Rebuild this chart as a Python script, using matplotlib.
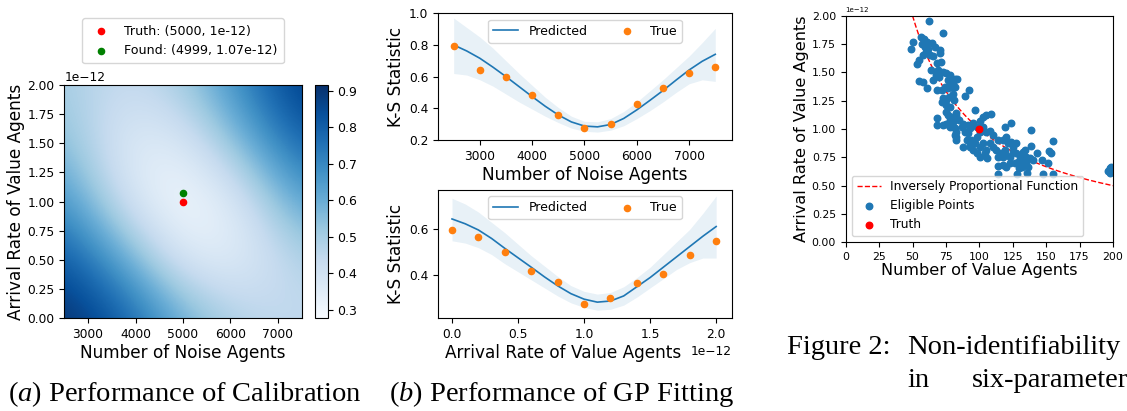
import numpy as np
import matplotlib
matplotlib.use('Agg')
import matplotlib.pyplot as plt

plt.rcParams['font.family'] = ['DejaVu Sans']
plt.rcParams['mathtext.fontset'] = 'custom'
plt.rcParams['mathtext.rm'] = 'Liberation Serif'
plt.rcParams['mathtext.it'] = 'Liberation Serif:italic'

# ---------------- Panel (a): calibration heatmap ----------------
heat_x = [2500, 3750, 5000, 6250, 7500]
heat_y = [0.0, 0.5e-12, 1.0e-12, 1.5e-12, 2.0e-12]
heat_ks = [
    [0.92, 0.82, 0.60, 0.47, 0.44],   # y = 0.0
    [0.83, 0.62, 0.36, 0.34, 0.48],   # y = 0.5e-12
    [0.68, 0.40, 0.27, 0.38, 0.64],   # y = 1.0e-12
    [0.56, 0.35, 0.36, 0.57, 0.80],   # y = 1.5e-12
    [0.50, 0.43, 0.50, 0.71, 0.90],   # y = 2.0e-12
]
truth_a = (5000, 1e-12)
found_a = (4999, 1.07e-12)
heat_xticks = [3000, 4000, 5000, 6000, 7000]
cbar_ticks = [0.3, 0.4, 0.5, 0.6, 0.7, 0.8, 0.9]

# ---------------- Panel (b) top: K-S vs number of noise agents ----------------
noise_grid = [2500, 2750, 3000, 3250, 3500, 3750, 4000, 4250, 4500, 4750, 5000,
              5250, 5500, 5750, 6000, 6250, 6500, 6750, 7000, 7250, 7500]
noise_pred = [0.800, 0.762, 0.716, 0.660, 0.600, 0.537, 0.474, 0.413, 0.358, 0.314, 0.288,
              0.283, 0.298, 0.336, 0.390, 0.450, 0.512, 0.578, 0.642, 0.697, 0.741]
noise_upper = [0.97, 0.91, 0.85, 0.78, 0.70, 0.62, 0.545, 0.47, 0.405, 0.35, 0.318,
               0.315, 0.335, 0.38, 0.44, 0.51, 0.58, 0.655, 0.73, 0.815, 0.905]
noise_lower = [0.62, 0.61, 0.58, 0.54, 0.49, 0.44, 0.395, 0.35, 0.31, 0.275, 0.255,
               0.25, 0.262, 0.29, 0.335, 0.385, 0.44, 0.50, 0.555, 0.58, 0.57]
noise_true_x = [2500, 3000, 3500, 4000, 4500, 5000, 5500, 6000, 6500, 7000, 7500]
noise_true_y = [0.795, 0.644, 0.596, 0.482, 0.360, 0.274, 0.300, 0.429, 0.526, 0.623, 0.659]

# ---------------- Panel (b) bottom: K-S vs arrival rate ----------------
rate_grid = [0.0, 0.1, 0.2, 0.3, 0.4, 0.5, 0.6, 0.7, 0.8, 0.9, 1.0,
             1.1, 1.2, 1.3, 1.4, 1.5, 1.6, 1.7, 1.8, 1.9, 2.0]  # x 1e-12
rate_pred = [0.645, 0.624, 0.597, 0.560, 0.517, 0.476, 0.435, 0.393, 0.354, 0.320, 0.296,
             0.283, 0.288, 0.310, 0.350, 0.390, 0.435, 0.480, 0.525, 0.570, 0.612]
rate_upper = [0.735, 0.71, 0.675, 0.63, 0.585, 0.535, 0.485, 0.44, 0.395, 0.355, 0.33,
              0.318, 0.325, 0.35, 0.39, 0.435, 0.49, 0.545, 0.60, 0.67, 0.745]
rate_lower = [0.55, 0.54, 0.52, 0.49, 0.45, 0.415, 0.38, 0.345, 0.31, 0.28, 0.26,
              0.248, 0.252, 0.27, 0.305, 0.345, 0.385, 0.425, 0.455, 0.475, 0.475]
rate_true_x = [0.0, 0.2, 0.4, 0.6, 0.8, 1.0, 1.2, 1.4, 1.6, 1.8, 2.0]  # x 1e-12
rate_true_y = [0.596, 0.567, 0.500, 0.420, 0.371, 0.274, 0.301, 0.367, 0.407, 0.488, 0.548]

# ---------------- Figure 2: non-identifiability scatter ----------------
elig_x = [56.0, 58.5, 60.5, 57.0, 59.3, 61.8, 60.0, 64.3, 63.0, 65.5, 57.5, 54.8, 66.7, 68.0,
          70.5, 70.5, 71.0, 69.2, 63.7, 67.5, 65.0, 70.0, 73.0, 75.4, 76.2, 77.9, 74.2, 71.7,
          68.0, 76.7, 79.2, 80.4, 81.7, 77.4, 73.0, 71.7, 75.4, 75.0, 80.9, 77.9, 81.7, 77.9,
          75.4, 76.9, 77.9, 80.4, 79.2, 82.9, 84.9, 87.9, 75.4, 77.9, 81.7, 82.9, 86.7, 89.1,
          91.6, 92.9, 91.6, 95.4, 97.9, 100.3, 102.8, 104.8, 102.8, 100.3, 105.3, 107.8, 110.3,
          97.9, 94.1, 90.4, 82.9, 81.7, 87.9, 92.9, 95.4, 97.9, 100.3, 104.1, 105.8, 102.8,
          107.8, 110.3, 112.8, 105.3, 100.3, 96.6, 92.9, 82.4,
          114.0, 117.8, 120.3, 121.5, 124.0, 125.2, 127.7, 119.0, 116.5, 120.3, 122.8, 125.2,
          127.7, 130.2, 131.5, 129.0, 126.5, 122.8, 120.3, 117.8, 132.7, 134.0, 135.2, 132.2,
          129.7, 137.7, 140.2, 135.2, 117.8, 114.0,
          62.3, 73.0, 48.8, 50.6, 53.0, 54.8, 57.8, 61.0, 68.0, 68.5, 73.0, 82.4, 80.4, 83.0,
          89.2, 92.4, 96.9, 108.6, 119.0, 123.5, 139.0, 138.5, 155.0, 153.4, 151.8, 143.2,
          146.7, 151.5, 147.7, 155.2, 135.5, 128.5, 114.3, 114.3, 136.7,
          196.3, 197.5, 198.8, 197.5, 199.5]
elig_y = [1.815, 1.791, 1.771, 1.750, 1.726, 1.706, 1.682, 1.756, 1.653, 1.644, 1.653, 1.609,
          1.726, 1.579, 1.697, 1.668, 1.594, 1.521, 1.521, 1.476, 1.432, 1.462, 1.506, 1.491,
          1.432, 1.418, 1.373, 1.344, 1.344, 1.359, 1.368, 1.403, 1.368, 1.285, 1.271, 1.241,
          1.256, 1.212, 1.256, 1.197, 1.438, 1.476,
          1.153, 1.124, 1.079, 1.065, 1.109, 1.138, 1.079, 1.044, 1.044, 1.021, 1.006, 0.976,
          1.021, 0.976, 0.962, 1.006, 1.035, 1.050, 1.015, 1.074, 1.109, 1.124, 1.021, 0.976,
          0.976, 0.985, 0.947, 0.932, 0.903, 0.903, 0.932, 0.947, 0.844, 0.844, 0.815, 0.785,
          0.756, 0.785, 0.741, 0.873, 0.873, 0.844, 0.815, 0.815, 0.844, 0.873, 0.873, 0.903,
          0.903, 0.903, 0.932, 0.873, 0.888, 0.844, 0.873, 0.815, 0.785, 0.771, 0.756, 0.800,
          0.785, 0.756, 0.726, 0.712, 0.697, 0.697, 0.668, 0.682, 0.800, 0.815, 0.756, 0.668,
          0.653, 0.741, 0.726, 0.703, 0.756, 0.756,
          1.956, 1.850, 1.709, 1.765, 1.574, 1.424, 1.418, 1.359, 1.094, 1.038, 1.038, 1.115,
          1.309, 1.438, 1.294, 1.344, 1.168, 1.129, 1.018, 1.050, 0.990, 0.850, 0.894, 0.785,
          0.810, 0.785, 0.726, 0.700, 0.600, 0.606, 0.615, 0.603, 0.606, 0.676, 0.668,
          0.630, 0.653, 0.668, 0.615, 0.638]  # x 1e-12
truth_c = (100, 1.0e-12)
inv_const = 1e-10          # y = inv_const / x
inv_x_range = (50, 200)

blue = '#1f77b4'
orange = '#ff7f0e'

fig = plt.figure(figsize=(11.27, 4.11), dpi=100)
W, H = 1127.0, 411.0


def rect(l, t, r, b):
    return [l / W, 1 - b / H, (r - l) / W, (b - t) / H]


# ---- (a) heatmap ----
axA = fig.add_axes(rect(64.3, 85, 301.7, 318.3))
cax = fig.add_axes(rect(315.3, 85, 327.7, 318.3))
dx = (heat_x[1] - heat_x[0]) / 2
dy = (heat_y[1] - heat_y[0]) / 2
im = axA.imshow(np.array(heat_ks), origin='lower', cmap='Blues', vmin=0.277, vmax=0.916,
                extent=(heat_x[0] - dx, heat_x[-1] + dx, heat_y[0] - dy, heat_y[-1] + dy),
                interpolation='bicubic', aspect='auto')
axA.scatter([truth_a[0]], [truth_a[1]], c='red', s=20, label='Truth: (5000, 1e-12)', zorder=3)
axA.scatter([found_a[0]], [found_a[1]], c='green', s=20, label='Found: (4999, 1.07e-12)', zorder=3)
axA.set_xlim(heat_x[0], heat_x[-1])
axA.set_ylim(heat_y[0], heat_y[-1])
axA.set_xticks(heat_xticks)
axA.tick_params(labelsize=8.8)
axA.yaxis.get_offset_text().set_fontsize(8.8)
axA.set_xlabel('Number of Noise Agents', fontsize=12.2, labelpad=2)
axA.set_ylabel('Arrival Rate of Value Agents', fontsize=12.2, labelpad=2)
axA.legend(loc='lower center', bbox_to_anchor=(0.5, 1.093), borderaxespad=0, fontsize=9.1,
           handletextpad=0.8, borderpad=0.5)
cb = fig.colorbar(im, cax=cax, ticks=cbar_ticks)
cb.ax.tick_params(labelsize=9)

# ---- (b) top ----
axB1 = fig.add_axes(rect(438, 13.3, 732, 140))
axB1.fill_between(noise_grid, noise_lower, noise_upper, color=blue, alpha=0.1, lw=0)
axB1.plot(noise_grid, noise_pred, color=blue, lw=1.2, label='Predicted')
axB1.scatter(noise_true_x, noise_true_y, color=orange, s=20, label='True', zorder=3)
axB1.set_xlim(2200, 7820)
axB1.set_ylim(0.2, 1.0)
axB1.set_xticks([3000, 4000, 5000, 6000, 7000])
axB1.set_yticks([0.2, 0.4, 0.6, 0.8, 1.0])
axB1.tick_params(labelsize=8.8)
axB1.set_xlabel('Number of Noise Agents', fontsize=12.2, labelpad=2)
axB1.set_ylabel('K-S Statistic', fontsize=12.2, labelpad=3)
axB1.legend(loc='upper center', ncol=2, fontsize=9, columnspacing=2.2, handletextpad=0.8)

# ---- (b) bottom ----
axB2 = fig.add_axes(rect(438, 190, 732, 318))
rx = np.array(rate_grid) * 1e-12
axB2.fill_between(rx, rate_lower, rate_upper, color=blue, alpha=0.1, lw=0)
axB2.plot(rx, rate_pred, color=blue, lw=1.2, label='Predicted')
axB2.scatter(np.array(rate_true_x) * 1e-12, rate_true_y, color=orange, s=20, label='True', zorder=3)
axB2.set_xlim(-0.106e-12, 2.12e-12)
axB2.set_ylim(0.214, 0.771)
axB2.set_yticks([0.4, 0.6])
axB2.set_xticks(np.array([0.0, 0.5, 1.0, 1.5, 2.0]) * 1e-12)
axB2.tick_params(labelsize=8.8)
axB2.xaxis.get_offset_text().set_fontsize(8.8)
axB2.set_xlabel('Arrival Rate of Value Agents', fontsize=12.2, labelpad=2)
axB2.xaxis.label.set_x(0.424)
axB2.set_ylabel('K-S Statistic', fontsize=12.2, labelpad=3)
axB2.legend(loc='upper center', ncol=2, fontsize=9, columnspacing=2.2, handletextpad=0.8)

# ---- Figure 2 scatter ----
axC = fig.add_axes(rect(845.7, 15.7, 1113, 242.3))
xs = np.linspace(inv_x_range[0], inv_x_range[1], 200)
axC.plot(xs, inv_const / xs, 'r--', lw=1.0, label='Inversely Proportional Function')
axC.scatter(elig_x, np.array(elig_y) * 1e-12, color=blue, s=22, label='Eligible Points', zorder=2)
axC.scatter([truth_c[0]], [truth_c[1]], color='red', s=22, label='Truth', zorder=3)
axC.set_xlim(0, 200)
axC.set_ylim(0, 2e-12)
axC.set_xticks([0, 25, 50, 75, 100, 125, 150, 175, 200])
axC.set_yticks(np.arange(0, 2.01, 0.25) * 1e-12)
axC.tick_params(labelsize=7.8)
axC.yaxis.get_offset_text().set_fontsize(5)
axC.set_xlabel('Number of Value Agents', fontsize=11.6, labelpad=1)
axC.set_ylabel('Arrival Rate of Value Agents', fontsize=11.6, labelpad=2)
axC.legend(loc='lower left', fontsize=8.7, handletextpad=0.8)

# ---- captions ----
serif = 'Liberation Serif'
fig.text(185 / W, 1 - 401 / H, r'($\mathit{a}$) Performance of Calibration', family=serif,
         fontsize=20.5, ha='center', va='baseline')
fig.text(561.5 / W, 1 - 401 / H, r'($\mathit{b}$) Performance of GP Fitting', family=serif,
         fontsize=20.5, ha='center', va='baseline')
fig.text(787 / W, 1 - 354 / H, 'Figure 2:', family=serif, fontsize=20.5, va='baseline')
fig.text(907 / W, 1 - 354 / H, 'Non-identifiability', family=serif, fontsize=20.5, va='baseline')
fig.text(907 / W, 1 - 387 / H, 'in', family=serif, fontsize=20.5, va='baseline')
fig.text(972 / W, 1 - 387 / H, 'six-parameter', family=serif, fontsize=20.5, va='baseline')

fig.savefig('out.png', dpi=100)
